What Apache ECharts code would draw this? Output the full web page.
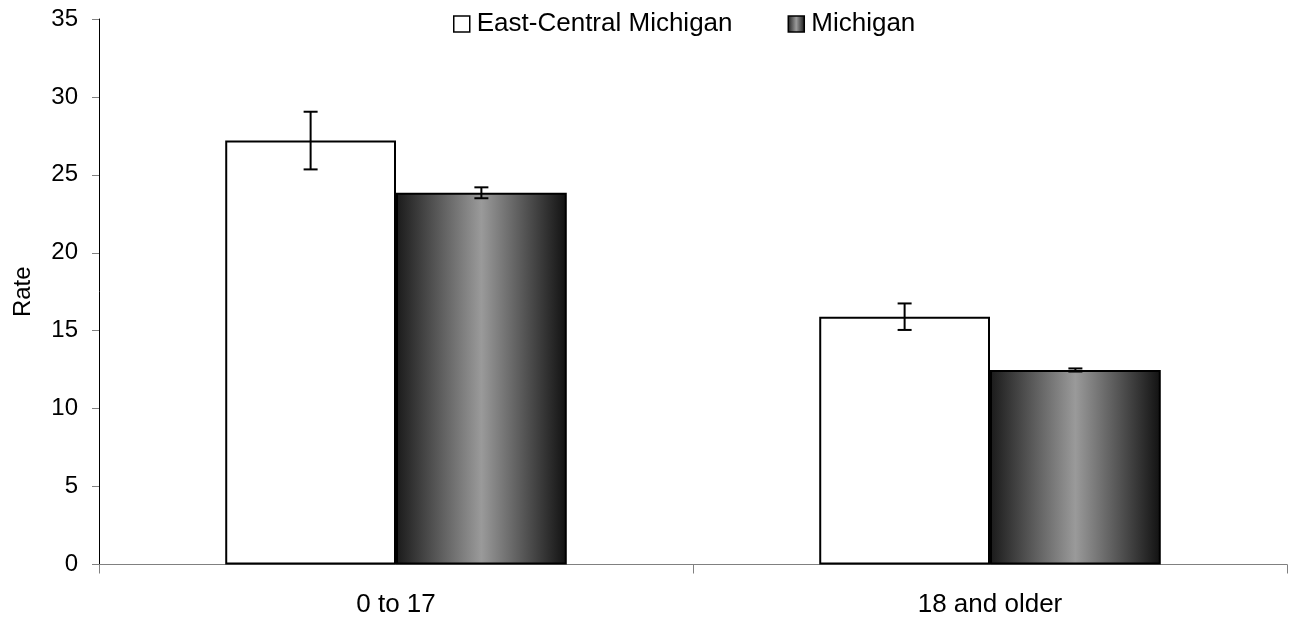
<!DOCTYPE html>
<html><head><meta charset="utf-8">
<script src="https://cdn.jsdelivr.net/npm/echarts@6/dist/echarts.min.js"></script>
<style>html,body{margin:0;padding:0;background:#fff}#c{width:1291px;height:620px}</style>
</head><body><div id="c"></div>
<script>
const categories = ['0 to 17', '18 and older'];
const seriesNames = ['East-Central Michigan', 'Michigan'];
const eastCentral = [27.2, 15.9];
const eastCentralErr = [1.85, 0.85];
const michigan = [23.85, 12.48];
const michiganErr = [0.35, 0.1];

const CAT_GAP = 0.425;
const FONT = 'Liberation Sans, Arial, sans-serif';
const chart = echarts.init(document.getElementById('c'));

const grad = new echarts.graphic.LinearGradient(0, 0, 1, 0, [
  {offset: 0, color: '#1a1a1a'},
  {offset: 0.5, color: '#9a9a9a'},
  {offset: 1, color: '#111111'}
]);

function errSeries(vals, errs, sIdx) {
  return {
    type: 'custom',
    z: 10,
    silent: true,
    data: vals.map((v, i) => [i, v, errs[i]]),
    renderItem: function (params, api) {
      const i = api.value(0), v = api.value(1), e = api.value(2);
      const catW = api.size([1, 0])[0];
      const bw = catW * (1 - CAT_GAP) / 2;
      const cx = api.coord([i, v])[0] + (sIdx === 0 ? -bw / 2 : bw / 2);
      const top = api.coord([i, v + e])[1];
      const bot = api.coord([i, v - e])[1];
      const cap = 7;
      const st = {stroke: '#000', lineWidth: 2};
      return {type: 'group', children: [
        {type: 'line', shape: {x1: cx, y1: top, x2: cx, y2: bot}, style: st},
        {type: 'line', shape: {x1: cx - cap, y1: top, x2: cx + cap, y2: top}, style: st},
        {type: 'line', shape: {x1: cx - cap, y1: bot, x2: cx + cap, y2: bot}, style: st}
      ]};
    }
  };
}

chart.setOption({
  animation: false,
  textStyle: {fontFamily: FONT},
  grid: {left: 99, right: 4, top: 19, bottom: 55.5, containLabel: false},
  legend: {
    top: 6, left: 448,
    itemWidth: 16, itemHeight: 16, itemGap: 55,
    textStyle: {fontSize: 26, color: '#000', fontFamily: FONT, padding: [0, 0, 0, 2]},
    data: [
      {name: seriesNames[0], icon: 'rect', itemStyle: {color: '#fff', borderColor: '#000', borderWidth: 1.5}},
      {name: seriesNames[1], icon: 'rect', itemStyle: {borderColor: '#000', borderWidth: 1.5}}
    ]
  },
  xAxis: {
    type: 'category', data: categories,
    axisLine: {lineStyle: {color: '#808080', width: 1}},
    axisTick: {show: true, length: 9, lineStyle: {color: '#808080'}},
    axisLabel: {fontSize: 26, color: '#000', margin: 27, fontFamily: FONT}
  },
  yAxis: {
    type: 'value', min: 0, max: 35, interval: 5,
    name: 'Rate', nameLocation: 'middle', nameGap: 64, nameRotate: 90,
    nameTextStyle: {fontSize: 24, color: '#000', fontFamily: FONT},
    axisLine: {show: true, lineStyle: {color: '#000', width: 1}},
    axisTick: {show: true, length: 7, lineStyle: {color: '#808080'}},
    axisLabel: {fontSize: 24, color: '#000', margin: 21, fontFamily: FONT},
    splitLine: {show: false}
  },
  series: [
    {name: seriesNames[0], type: 'bar', data: eastCentral, barGap: '0%', barCategoryGap: (CAT_GAP * 100) + '%',
     itemStyle: {color: '#fff', borderColor: '#000', borderWidth: 2}},
    {name: seriesNames[1], type: 'bar', data: michigan, barGap: '0%', barCategoryGap: (CAT_GAP * 100) + '%',
     itemStyle: {color: grad, borderColor: '#000', borderWidth: 2}},
    errSeries(eastCentral, eastCentralErr, 0),
    errSeries(michigan, michiganErr, 1)
  ]
});
</script></body></html>
